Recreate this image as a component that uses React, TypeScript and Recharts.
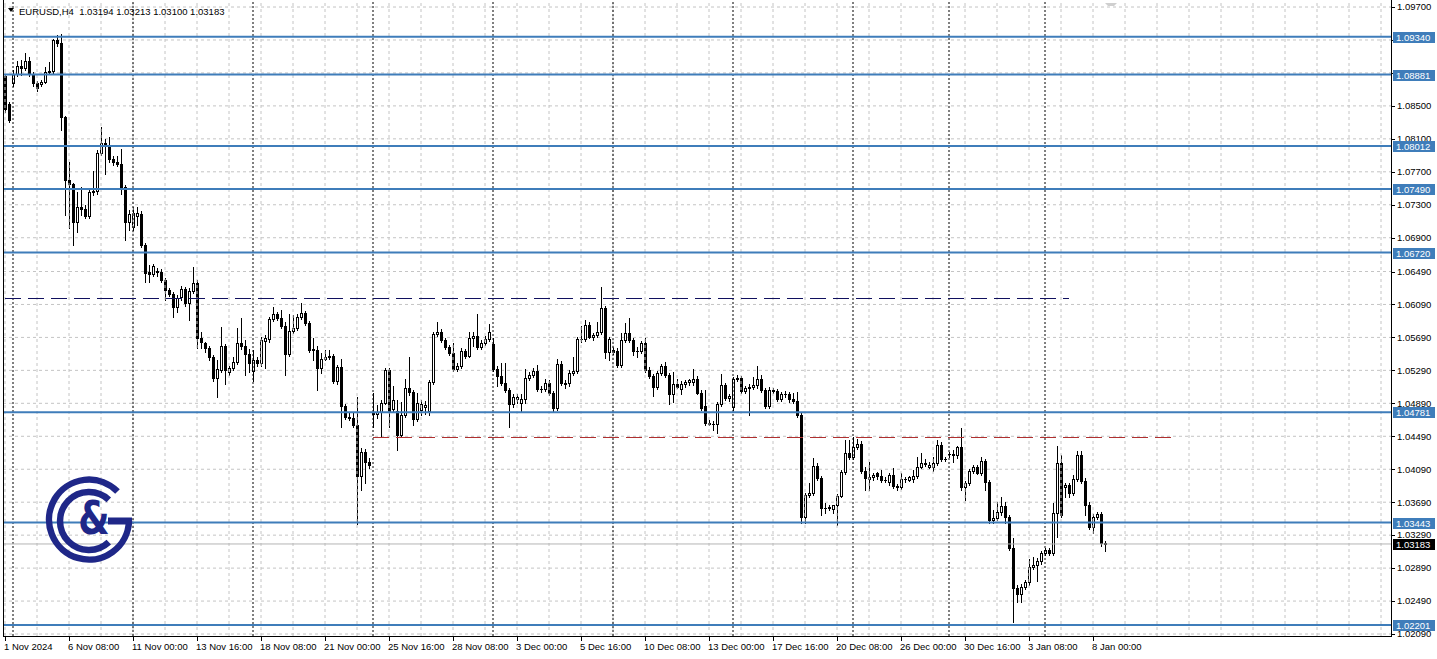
import React from "react";
import { ComposedChart, Bar, XAxis, YAxis, CartesianGrid, ReferenceLine } from "recharts";

// EURUSD H4 candles, one array per trading week: [open, high, low, close]
type Row = [number, number, number, number];

const weekNov01: Row[] = [
  [1.0886, 1.0889, 1.0843, 1.0846], [1.0852, 1.0855, 1.0831, 1.0833],
];
const weekNov04: Row[] = [
  [1.0878, 1.0894, 1.0874, 1.0889], [1.0889, 1.0904, 1.0886, 1.0898], [1.0898, 1.0906, 1.0887, 1.0896],
  [1.0896, 1.0914, 1.0894, 1.0904], [1.0904, 1.0909, 1.0886, 1.0889], [1.0889, 1.0891, 1.0874, 1.0878],
  [1.0878, 1.088, 1.0868, 1.0872], [1.0876, 1.0881, 1.0874, 1.0879], [1.0879, 1.0897, 1.0878, 1.0891],
  [1.0891, 1.0903, 1.0889, 1.0892], [1.0892, 1.0931, 1.089, 1.093], [1.093, 1.0936, 1.0923, 1.0926],
  [1.0926, 1.0937, 1.0821, 1.0837], [1.0837, 1.0838, 1.0718, 1.076], [1.076, 1.0782, 1.0702, 1.0755],
  [1.0755, 1.0756, 1.0681, 1.0709], [1.0709, 1.0745, 1.0697, 1.0727], [1.0727, 1.0752, 1.0718, 1.0725],
  [1.0725, 1.073, 1.0714, 1.0716], [1.0716, 1.075, 1.0714, 1.0745], [1.0745, 1.0771, 1.0742, 1.0747],
  [1.0747, 1.0796, 1.0743, 1.0793], [1.0793, 1.0824, 1.079, 1.0805], [1.0805, 1.081, 1.0767, 1.0801],
  [1.0801, 1.0812, 1.0782, 1.0786], [1.0786, 1.0789, 1.0778, 1.0782], [1.0782, 1.0789, 1.0777, 1.0779],
  [1.0779, 1.0798, 1.0743, 1.0751], [1.0751, 1.0754, 1.0687, 1.0709], [1.0709, 1.0724, 1.0699, 1.0719],
];
const weekNov11: Row[] = [
  [1.0703, 1.0727, 1.0699, 1.072], [1.0716, 1.0727, 1.0705, 1.072], [1.0719, 1.0722, 1.0679, 1.0681],
  [1.0681, 1.0684, 1.0636, 1.0647], [1.0648, 1.0657, 1.0636, 1.0646], [1.0646, 1.0658, 1.0644, 1.0656],
  [1.065, 1.0653, 1.0644, 1.0648], [1.0648, 1.0652, 1.0636, 1.0639], [1.0639, 1.0641, 1.0614, 1.0627],
  [1.0627, 1.0629, 1.0619, 1.0622], [1.0622, 1.0624, 1.0594, 1.0606], [1.0606, 1.062, 1.06, 1.0617],
  [1.0618, 1.0631, 1.0614, 1.0628], [1.0628, 1.063, 1.0607, 1.0611], [1.0611, 1.0629, 1.059, 1.0625],
  [1.0625, 1.0654, 1.0623, 1.0635], [1.0635, 1.0639, 1.0556, 1.0568], [1.0568, 1.0576, 1.0556, 1.0563],
  [1.0562, 1.0564, 1.0551, 1.0556], [1.0556, 1.0559, 1.0542, 1.0545], [1.0545, 1.0548, 1.0516, 1.052],
  [1.052, 1.0542, 1.0497, 1.0531], [1.053, 1.0582, 1.0527, 1.0559], [1.0559, 1.0561, 1.0512, 1.053],
  [1.0527, 1.0534, 1.0523, 1.0532], [1.0532, 1.0545, 1.0529, 1.0539], [1.0539, 1.058, 1.0537, 1.0562],
  [1.0562, 1.0593, 1.0555, 1.0559], [1.0559, 1.0566, 1.0523, 1.0549], [1.0549, 1.0555, 1.0527, 1.0538],
];
const weekNov18: Row[] = [
  [1.0528, 1.0554, 1.0516, 1.0542], [1.0542, 1.0545, 1.0534, 1.0538], [1.0538, 1.057, 1.0534, 1.0566],
  [1.0565, 1.0572, 1.0532, 1.0568], [1.0567, 1.0594, 1.0563, 1.0591], [1.0591, 1.0606, 1.0589, 1.0597],
  [1.0597, 1.06, 1.059, 1.0593], [1.0593, 1.0602, 1.058, 1.0583], [1.0583, 1.0588, 1.0523, 1.0549],
  [1.0549, 1.0597, 1.0547, 1.0577], [1.0577, 1.0596, 1.0574, 1.058], [1.058, 1.0597, 1.0578, 1.0594],
  [1.0594, 1.0611, 1.0591, 1.0599], [1.0599, 1.0601, 1.0584, 1.0587], [1.0587, 1.0589, 1.0551, 1.0554],
  [1.0555, 1.0568, 1.0542, 1.0554], [1.0554, 1.0559, 1.0505, 1.0532], [1.0532, 1.055, 1.0526, 1.0543],
  [1.0543, 1.0554, 1.0541, 1.0545], [1.0545, 1.0554, 1.0543, 1.0547], [1.0547, 1.0549, 1.0514, 1.0516],
  [1.0516, 1.0536, 1.0512, 1.0533], [1.0533, 1.0543, 1.046, 1.0486], [1.0486, 1.0488, 1.047, 1.0472],
  [1.0472, 1.0479, 1.0469, 1.0471], [1.0471, 1.0479, 1.046, 1.0463], [1.0463, 1.0497, 1.0343, 1.0401],
  [1.0401, 1.0435, 1.0384, 1.043], [1.043, 1.0434, 1.0392, 1.0418], [1.0418, 1.0423, 1.0411, 1.0414],
];
const weekNov25: Row[] = [
  [1.0477, 1.0502, 1.046, 1.0476], [1.0476, 1.0487, 1.0471, 1.0479], [1.0478, 1.0493, 1.0448, 1.049],
  [1.049, 1.0532, 1.0488, 1.053], [1.053, 1.0532, 1.046, 1.0479], [1.0482, 1.051, 1.048, 1.0493],
  [1.048, 1.0493, 1.0432, 1.0451], [1.0451, 1.0491, 1.0449, 1.0475], [1.0475, 1.0519, 1.0472, 1.0508],
  [1.0508, 1.0545, 1.0499, 1.0503], [1.0503, 1.0505, 1.0463, 1.047], [1.047, 1.0502, 1.0467, 1.049],
  [1.0481, 1.0493, 1.0475, 1.0488], [1.0484, 1.0492, 1.0476, 1.0487], [1.048, 1.0517, 1.0475, 1.0515],
  [1.0515, 1.0576, 1.0512, 1.0573], [1.0573, 1.0588, 1.0571, 1.0576], [1.0576, 1.0579, 1.0564, 1.0566],
  [1.0566, 1.0568, 1.0555, 1.0557], [1.0557, 1.056, 1.0548, 1.055], [1.055, 1.0562, 1.0528, 1.0531],
  [1.0531, 1.0538, 1.0528, 1.0534], [1.0534, 1.0556, 1.0532, 1.0553], [1.0553, 1.0555, 1.0544, 1.0547],
  [1.0547, 1.0576, 1.0545, 1.0568], [1.0568, 1.0576, 1.0558, 1.0571], [1.0571, 1.0597, 1.0555, 1.0557],
  [1.0557, 1.0566, 1.0555, 1.0562], [1.0562, 1.0571, 1.056, 1.0567], [1.0567, 1.0585, 1.0565, 1.0576],
];
const weekDec02: Row[] = [
  [1.0561, 1.0568, 1.0528, 1.0531], [1.0531, 1.0534, 1.051, 1.0522], [1.0522, 1.0538, 1.0511, 1.0514],
  [1.0514, 1.0538, 1.0503, 1.0505], [1.0505, 1.0508, 1.046, 1.0488], [1.0488, 1.05, 1.0485, 1.0497],
  [1.0494, 1.05, 1.049, 1.0497], [1.049, 1.05, 1.048, 1.0494], [1.0494, 1.0531, 1.049, 1.052],
  [1.052, 1.0527, 1.0517, 1.0523], [1.0523, 1.0532, 1.0521, 1.0528], [1.0528, 1.0536, 1.0504, 1.0506],
  [1.0506, 1.051, 1.0503, 1.0506], [1.0506, 1.0519, 1.0504, 1.0514], [1.0514, 1.0517, 1.0499, 1.0502],
  [1.0502, 1.0504, 1.0479, 1.0483], [1.0483, 1.0543, 1.0481, 1.0537], [1.0537, 1.054, 1.0511, 1.0514],
  [1.0512, 1.0517, 1.0507, 1.0514], [1.0514, 1.053, 1.051, 1.0526], [1.0526, 1.0545, 1.0523, 1.0528],
  [1.0528, 1.057, 1.0526, 1.0567], [1.0567, 1.0583, 1.0564, 1.0567], [1.0567, 1.059, 1.0565, 1.0584],
  [1.0584, 1.0588, 1.0568, 1.057], [1.057, 1.0574, 1.0566, 1.0572], [1.0572, 1.0588, 1.0569, 1.0576],
  [1.0576, 1.063, 1.0573, 1.0605], [1.0605, 1.0607, 1.0544, 1.0551], [1.0551, 1.057, 1.0542, 1.0567],
];
const weekDec09: Row[] = [
  [1.0554, 1.0557, 1.0549, 1.0551], [1.0552, 1.0556, 1.0533, 1.0535], [1.0535, 1.0574, 1.0533, 1.0566],
  [1.0566, 1.0587, 1.0564, 1.0574], [1.0574, 1.0593, 1.0564, 1.0566], [1.0566, 1.0568, 1.0548, 1.0553],
  [1.0553, 1.0557, 1.0545, 1.0552], [1.0552, 1.0565, 1.055, 1.0562], [1.0562, 1.0568, 1.0527, 1.053],
  [1.053, 1.0533, 1.052, 1.0522], [1.0522, 1.0525, 1.0498, 1.0509], [1.0509, 1.0528, 1.0506, 1.0526],
  [1.0526, 1.0537, 1.0523, 1.0534], [1.0534, 1.0539, 1.0521, 1.0523], [1.0523, 1.0526, 1.0488, 1.05],
  [1.05, 1.0527, 1.0491, 1.0512], [1.0512, 1.0518, 1.0507, 1.0509], [1.0506, 1.0516, 1.05, 1.0513],
  [1.0513, 1.0517, 1.0509, 1.0515], [1.0515, 1.0519, 1.0511, 1.0517], [1.0515, 1.0531, 1.0511, 1.0519],
  [1.0519, 1.0522, 1.05, 1.0502], [1.0502, 1.0505, 1.0481, 1.0483], [1.0486, 1.0505, 1.0463, 1.0465],
  [1.0465, 1.0469, 1.0463, 1.0464], [1.0464, 1.0468, 1.0457, 1.0464], [1.0464, 1.0491, 1.0453, 1.0488],
  [1.0488, 1.0525, 1.0486, 1.0511], [1.0511, 1.0514, 1.0493, 1.0495], [1.0495, 1.05, 1.0492, 1.0498],
];
const weekDec16: Row[] = [
  [1.0484, 1.0521, 1.0481, 1.0519], [1.0519, 1.0523, 1.0516, 1.052], [1.052, 1.0522, 1.0501, 1.0504],
  [1.0504, 1.051, 1.0502, 1.0507], [1.0507, 1.0512, 1.0475, 1.0509], [1.0509, 1.0521, 1.0506, 1.0511],
  [1.0511, 1.0534, 1.0508, 1.0519], [1.0519, 1.0523, 1.0503, 1.0505], [1.0505, 1.0507, 1.0483, 1.0486],
  [1.0486, 1.0509, 1.0483, 1.0505], [1.0505, 1.0508, 1.0501, 1.0504], [1.0504, 1.0506, 1.0492, 1.0494],
  [1.0494, 1.0503, 1.0492, 1.05], [1.05, 1.0504, 1.0497, 1.05], [1.05, 1.0503, 1.0491, 1.0494],
  [1.0494, 1.0502, 1.0489, 1.0492], [1.0492, 1.0503, 1.0472, 1.0475], [1.0475, 1.0477, 1.0344, 1.0351],
  [1.0351, 1.038, 1.0344, 1.0378], [1.0378, 1.0392, 1.0375, 1.038], [1.038, 1.0423, 1.0378, 1.0413],
  [1.0413, 1.0416, 1.0396, 1.0398], [1.0398, 1.0401, 1.0354, 1.0362], [1.0362, 1.0368, 1.0356, 1.0362],
  [1.0362, 1.0365, 1.0359, 1.0363], [1.0361, 1.0366, 1.0356, 1.0365], [1.0365, 1.0379, 1.0341, 1.0377],
  [1.0377, 1.0408, 1.0375, 1.0406], [1.0406, 1.0445, 1.0403, 1.0429], [1.0429, 1.0445, 1.0421, 1.0424],
];
const weekDec23: Row[] = [
  [1.0424, 1.0448, 1.0422, 1.0436], [1.0436, 1.0446, 1.0434, 1.044], [1.044, 1.0443, 1.0404, 1.0407],
  [1.0407, 1.0412, 1.0384, 1.0398], [1.0397, 1.0418, 1.0384, 1.04], [1.04, 1.0405, 1.0396, 1.0402],
  [1.0404, 1.0406, 1.0397, 1.0401], [1.0401, 1.0408, 1.0394, 1.0396], [1.0396, 1.0399, 1.0394, 1.0396],
  [1.0393, 1.0404, 1.039, 1.0402], [1.0402, 1.041, 1.0386, 1.0389], [1.0389, 1.0391, 1.0384, 1.0387],
  [1.0387, 1.0404, 1.0385, 1.0397], [1.0397, 1.04, 1.0394, 1.0397], [1.0396, 1.0401, 1.0395, 1.0399],
  [1.0397, 1.0408, 1.0394, 1.0401], [1.0401, 1.0424, 1.0398, 1.0412], [1.0412, 1.0429, 1.041, 1.0416],
  [1.0416, 1.0421, 1.0413, 1.0415], [1.0412, 1.0418, 1.041, 1.0414], [1.0412, 1.0424, 1.0407, 1.0417],
  [1.0417, 1.0445, 1.0414, 1.0439], [1.0439, 1.0442, 1.0419, 1.0421], [1.0421, 1.0424, 1.0419, 1.0421],
];
const weekDec30: Row[] = [
  [1.0427, 1.043, 1.0424, 1.0427], [1.0427, 1.0432, 1.0418, 1.0426], [1.0426, 1.0437, 1.0423, 1.0436],
  [1.0436, 1.0459, 1.0384, 1.0387], [1.0387, 1.0395, 1.0372, 1.0392], [1.0392, 1.0409, 1.039, 1.0407],
  [1.0407, 1.0414, 1.0405, 1.0412], [1.0412, 1.0414, 1.0403, 1.0404], [1.0404, 1.0424, 1.0402, 1.0419],
  [1.0419, 1.0421, 1.0384, 1.0394], [1.0394, 1.0396, 1.0344, 1.0347], [1.0347, 1.036, 1.0344, 1.035],
  [1.035, 1.0369, 1.0347, 1.0357], [1.0357, 1.0375, 1.0354, 1.0364], [1.0364, 1.0369, 1.0344, 1.0351],
  [1.0351, 1.0354, 1.0311, 1.0314], [1.0314, 1.0326, 1.0224, 1.0265], [1.0265, 1.0268, 1.0248, 1.0258],
  [1.0258, 1.027, 1.0248, 1.0266], [1.0266, 1.0275, 1.0264, 1.0272], [1.0272, 1.03, 1.0269, 1.029],
  [1.029, 1.0302, 1.0288, 1.0293], [1.0293, 1.0301, 1.0273, 1.0298], [1.0298, 1.031, 1.0294, 1.0307],
];
const weekJan06: Row[] = [
  [1.0307, 1.0313, 1.0305, 1.0311], [1.0311, 1.0313, 1.0305, 1.0307], [1.0307, 1.0368, 1.0305, 1.0356],
  [1.0356, 1.0437, 1.0327, 1.0417], [1.0417, 1.0426, 1.0351, 1.0354], [1.0388, 1.0392, 1.0375, 1.039],
  [1.039, 1.0392, 1.0375, 1.038], [1.038, 1.0402, 1.0378, 1.0397], [1.0397, 1.0431, 1.0395, 1.0426],
  [1.0426, 1.0431, 1.0392, 1.0395], [1.0395, 1.0398, 1.0354, 1.0366], [1.0366, 1.0369, 1.0336, 1.0339],
  [1.0339, 1.0355, 1.0332, 1.0351], [1.0351, 1.0357, 1.0348, 1.0355], [1.0355, 1.0357, 1.0316, 1.0319],
  [1.03194, 1.03213, 1.031, 1.03183],
];

const weeks = [weekNov01, weekNov04, weekNov11, weekNov18, weekNov25, weekDec02, weekDec09, weekDec16, weekDec23, weekDec30, weekJan06];

// one label every 16 bars, starting at the first bar
const timeLabels = [
  "1 Nov 2024", "6 Nov 08:00", "11 Nov 00:00", "13 Nov 16:00", "18 Nov 08:00", "21 Nov 00:00",
  "25 Nov 16:00", "28 Nov 08:00", "3 Dec 00:00", "5 Dec 16:00", "10 Dec 08:00", "13 Dec 00:00",
  "17 Dec 16:00", "20 Dec 08:00", "26 Dec 00:00", "30 Dec 16:00", "3 Jan 08:00", "8 Jan 00:00",
];
const priceTicks = [
  1.097, 1.093, 1.089, 1.085, 1.081, 1.077, 1.073, 1.069, 1.0649, 1.0609, 1.0569, 1.0529,
  1.0489, 1.0449, 1.0409, 1.0369, 1.0329, 1.0289, 1.0249, 1.0209,
];
const levels = [1.0934, 1.08881, 1.08012, 1.0749, 1.0672, 1.04781, 1.03443, 1.02201];
const dashedLines = [
  { price: 1.0616, from: 0, to: 266, color: "#10105e" },
  { price: 1.0448, from: 92, to: 292, color: "#b03030" },
];
const symbol = "EURUSD,H4";
const lastBar = [1.03194, 1.03213, 1.031, 1.03183];
const lastPrice = 1.03183;

const W = 1437;
const H = 659;
const SLOTS = 347; // bar slots across the plot, including the empty shift area
const LEVEL_BLUE = "#3f7dba";
const FONT = "'Liberation Sans', Arial, sans-serif";

const candles = weeks.flat();
const weekStarts: number[] = [];
weeks.reduce((acc, w, i) => {
  if (i > 0) weekStarts.push(acc);
  return acc + w.length;
}, 0);

const data = Array.from({ length: SLOTS }, (_, n) => {
  const r = candles[n];
  return r ? { n, o: r[0], h: r[1], l: r[2], c: r[3], range: [r[2], r[1]] } : { n, range: null };
});

const gridBars = Array.from({ length: Math.ceil(SLOTS / 8) }, (_, i) => i * 8);
const labelBars = timeLabels.map((_, i) => i * 16);
// level boxes come last so they are painted over the plain price labels
const axisTicks = [...priceTicks, ...levels, lastPrice];

const Candle = (props: any) => {
  const { x, y, width, height, payload } = props;
  if (!payload || payload.o == null || x == null) return null;
  const { o, h, l, c } = payload;
  const span = h - l;
  const toY = (v: number) => (span > 0 ? y + ((h - v) / span) * height : y);
  const px = Math.floor(x + width / 2);
  const top = Math.round(Math.min(toY(o), toY(c)));
  const bot = Math.round(Math.max(toY(o), toY(c)));
  const yH = Math.round(y);
  const yL = Math.round(y + height);
  let body;
  if (bot - top < 1) {
    body = <line x1={px - 1} x2={px + 2} y1={top + 0.5} y2={top + 0.5} stroke="#000" />;
  } else if (c >= o) {
    body = <rect x={px - 0.5} y={top + 0.5} width={2} height={bot - top} fill="#fff" stroke="#000" />;
  } else {
    body = <rect x={px - 1} y={top} width={3} height={bot - top + 1} fill="#000" />;
  }
  return (
    <g shapeRendering="crispEdges">
      <line x1={px + 0.5} x2={px + 0.5} y1={yH} y2={yL + 1} stroke="#000" />
      {body}
    </g>
  );
};

const PriceTick = (props: any) => {
  const { x, y, payload } = props;
  const v = Number(payload.value);
  const yy = Math.round(y) + 0.5;
  const isLevel = levels.includes(v);
  const isLast = v === lastPrice;
  if (isLevel || isLast) {
    const by = Math.round(y) - 5;
    return (
      <g>
        <rect x={x + 2} y={by} width={42} height={11} fill={isLast ? "#000" : LEVEL_BLUE} />
        <text x={x + 5} y={by + 5.5} dy="0.35em" fontSize={9.5} fill="#fff" fontFamily={FONT}>
          {v.toFixed(5)}
        </text>
      </g>
    );
  }
  return (
    <g>
      <line x1={x} x2={x + 4} y1={yy} y2={yy} stroke="#000" shapeRendering="crispEdges" />
      <text x={x + 6} y={y} dy="0.35em" fontSize={9.5} fill="#000" fontFamily={FONT}>
        {v.toFixed(5)}
      </text>
    </g>
  );
};

const TimeTick = (props: any) => {
  const { x, payload } = props;
  const label = timeLabels[Math.round(payload.value / 16)];
  const xx = Math.floor(x) + 0.5;
  return (
    <g>
      <line x1={xx} x2={xx} y1={636} y2={641} stroke="#000" shapeRendering="crispEdges" />
      <text x={x - 1} y={650} fontSize={9.5} fill="#000" fontFamily={FONT}>
        {label}
      </text>
    </g>
  );
};

const LOGO = "#1f2788";

export default function App() {
  return (
    <div style={{ position: "absolute", left: 0, top: 0, width: W, height: H, background: "#fff", fontFamily: FONT }}>
      <ComposedChart width={W} height={H} data={data} margin={{ top: 2, right: 0, bottom: 0, left: 3 }} barCategoryGap={0}>
        <CartesianGrid vertical={false} stroke="#c4c4c4" strokeDasharray="3 3" horizontalValues={priceTicks} />
        {gridBars.map((n) => (
          <ReferenceLine key={"g" + n} x={n} stroke="#c4c4c4" strokeDasharray="3 3" />
        ))}
        {weekStarts.map((n) => (
          <ReferenceLine key={"w" + n} x={n} stroke="#000" strokeDasharray="2 2" />
        ))}
        <XAxis
          dataKey="n"
          type="category"
          height={23}
          ticks={labelBars}
          interval={0}
          axisLine={false}
          tickLine={false}
          tick={<TimeTick />}
        />
        <YAxis
          orientation="right"
          width={46}
          type="number"
          domain={[1.02066, 1.09761]}
          allowDataOverflow
          ticks={axisTicks}
          interval={0}
          axisLine={false}
          tickLine={false}
          tickSize={0}
          tickMargin={0}
          tick={<PriceTick />}
        />
        <ReferenceLine y={lastPrice} stroke="#b4b4b4" />
        {dashedLines.map((d) => (
          <ReferenceLine
            key={"d" + d.price}
            segment={[{ x: d.from, y: d.price }, { x: d.to, y: d.price }]}
            stroke={d.color}
            strokeDasharray="16 7"
            shapeRendering="crispEdges"
          />
        ))}
        {levels.map((v) => (
          <ReferenceLine key={"l" + v} y={v} stroke={LEVEL_BLUE} strokeWidth={2} />
        ))}
        <Bar dataKey="range" shape={<Candle />} isAnimationActive={false} />
      </ComposedChart>

      <svg width={W} height={H} style={{ position: "absolute", left: 0, top: 0, pointerEvents: "none" }}>
        <g shapeRendering="crispEdges" stroke="#000">
          <line x1={3.5} x2={3.5} y1={0} y2={637} />
          <line x1={1391.5} x2={1391.5} y1={0} y2={637} />
          <line x1={3} x2={1392} y1={636.5} y2={636.5} />
        </g>
        <polygon points="8,8 14,8 11,12" fill="#000" />
        <text x={19} y={15} fontSize={9.5} fill="#000" fontFamily={FONT} style={{ whiteSpace: "pre" }}>
          {symbol + "  " + lastBar.map((v) => v.toFixed(5)).join(" ")}
        </text>
        <polygon points="1105,3 1117,3 1114,6 1108,6" fill="#cfcfcf" />
        <g fill="none" stroke={LOGO} strokeWidth={6.5}>
          <path d="M 117.5 491.5 A 40 40 0 1 0 129 521" />
          <path d="M 108.8 499.8 A 29 29 0 1 0 108.8 542.2" />
        </g>
        <rect x={108} y={517.5} width={24} height={7} fill={LOGO} />
        <text
          transform="translate(94 518) scale(0.78 1)"
          fontSize={46}
          fontWeight="bold"
          textAnchor="middle"
          dominantBaseline="central"
          fill={LOGO}
          fontFamily="'DejaVu Sans', sans-serif"
        >
          &amp;
        </text>
      </svg>
    </div>
  );
}
